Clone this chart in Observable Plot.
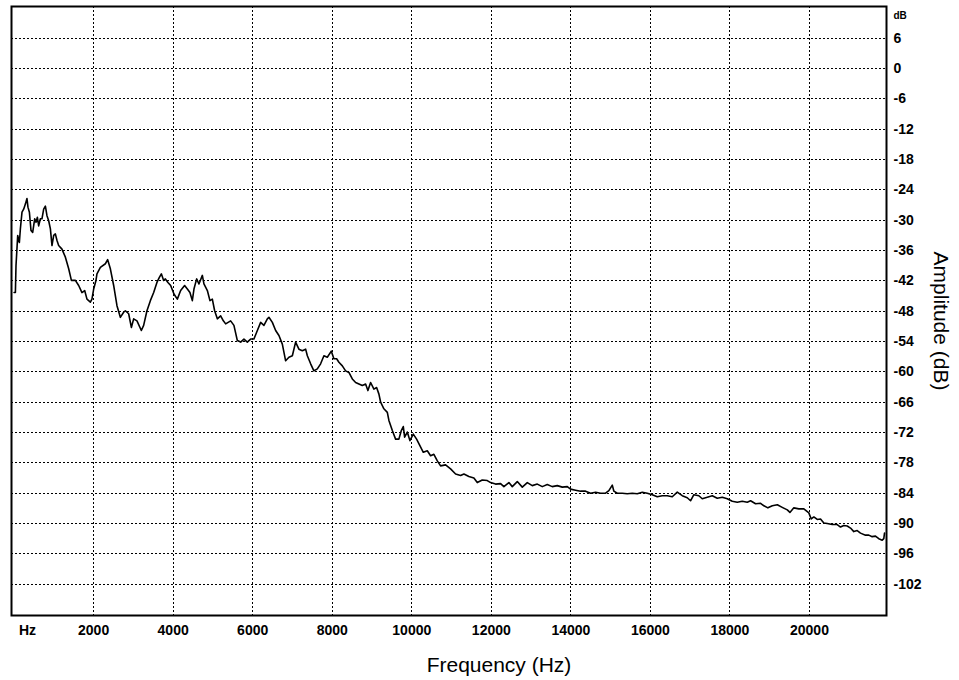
<!DOCTYPE html>
<html>
<head>
<meta charset="utf-8">
<script src="https://cdn.jsdelivr.net/npm/d3@7"></script>
<script src="https://cdn.jsdelivr.net/npm/@observablehq/plot@0.6"></script>
<style>
  html, body { margin: 0; padding: 0; background: #fff; }
</style>
</head>
<body>
<div id="chart"></div>
<script>
// Frequency (Hz) of each traced point of the spectrum
const freqHz = [
  0,33,48,91,133,158,199,241,284,324,349,385,425,468,518,551,586,618,661,701,
  744,787,827,870,913,953,996,1038,1079,1121,1204,1290,1373,1441,1541,1624,1707,1775,1833,1918,
  1958,2001,2059,2084,2170,2295,2353,2421,2504,2587,2672,2755,2798,2881,2949,3007,3090,3200,3258,3341,
  3427,3510,3592,3653,3703,3761,3804,3869,
  3937,4020,4105,4188,4288,4357,4422,4482,4523,4591,4648,4734,4774,4860,4925,4985,5043,5111,5194,5262,
  5320,5445,5528,5614,5697,5780,5865,5948,6031,6117,6200,6282,6368,6408,6494,6577,6660,6745,6828,6911,
  6997,7079,7162,7248,7331,
  7374,7457,7539,7625,7708,7791,7876,7977,8042,8110,8168,8254,8336,8419,8505,8588,8671,8756,8839,8897,
  8965,9048,9116,9174,9217,9299,9385,9425,9511,9593,9676,9737,9787,9820,9888,9953,10038,10121,10204,10290,
  10390,10473,10556,10642,10725,
  10850,10976,11102,11228,11311,11436,11562,11647,11773,11899,11982,12107,12233,12316,12442,12527,12653,12779,12905,13030,
  13156,13282,13407,13533,13659,13785,13910,13993,14119,14245,14370,14496,14622,14748,14873,14956,15042,15082,15167,15293,
  15418,15544,15670,15796,15921,16047,16173,16299,16424,16550,16676,16801,16927,17010,
  17093,17219,17304,17430,17556,17681,17807,17933,18059,18184,18310,18436,18519,18645,18771,18854,18955,19066,19192,19315,
  19443,19508,19607,19733,19859,19984,20044,20110,20195,20278,20361,20446,20572,20697,20781,20864,20949,21032,21115,21200,
  21283,21409,21492,21577,21660,21743,21829,21869,21887
];
// Amplitude (dB) at each of those frequencies
const ampDb = [
  -44.3,-44.3,-39,-33,-34.4,-31.7,-28.4,-27.8,-26.8,-25.7,-27.4,-28.4,-32,-32.4,-29.7,-30.4,-29.4,-31.1,-29.7,-29.7,
  -27.8,-27.2,-29.1,-30.1,-31.7,-35,-33,-32.7,-34,-35,-35.7,-37.3,-39.6,-41.9,-41.9,-42.9,-44.3,-43.9,-45.6,-46.2,
  -45.6,-43.6,-41.9,-40.6,-39.3,-38.6,-37.8,-39.6,-42.9,-46.9,-49.2,-48.2,-47.9,-48.5,-51.2,-49.5,-49.9,-51.8,-50.8,-47.9,
  -45.9,-44.3,-42.3,-41.3,-40.6,-41.9,-41.6,-42.3,
  -42.9,-44.6,-45.6,-43.9,-42.9,-43.6,-44.3,-45.9,-43.6,-41.6,-42.6,-40.9,-42.6,-43.9,-45.9,-45.6,-47.9,-49.5,-48.9,-49.9,
  -50.5,-49.9,-50.8,-53.8,-54.1,-53.5,-54.1,-53.5,-53.5,-51.8,-50.2,-50.8,-49.5,-49.2,-50.2,-51.8,-52.8,-54.5,-57.8,-57.1,
  -56.8,-54.1,-55.5,-55.8,-55.5,
  -56.8,-58.4,-59.8,-59.4,-58.4,-56.8,-57.1,-55.9,-57.4,-57.4,-58.1,-58.8,-59.8,-60.1,-61.4,-62.1,-62.4,-62.7,-62.4,-63.7,
  -62.1,-63.4,-63.1,-64.4,-66,-67.3,-68,-69.6,-71.6,-73.3,-73.3,-71.6,-70.8,-72.9,-71.9,-73.6,-72.3,-73.3,-74.6,-75.9,
  -75.6,-76.6,-76.3,-77.6,-78.6,
  -78.4,-79.2,-80.2,-80.5,-80.2,-80.7,-81,-81.9,-81.4,-81.5,-81.9,-82.2,-82.1,-82.7,-81.9,-82.7,-81.7,-82.8,-81.9,-82.5,
  -82.2,-82.7,-82.3,-82.7,-82.5,-82.8,-82.7,-83.2,-83.4,-83.6,-83.6,-84,-83.8,-84,-84,-83.5,-82.4,-83.6,-84,-84,
  -84.1,-84,-84.1,-83.8,-84,-84.3,-84.7,-84.5,-84.5,-84.7,-83.8,-84.5,-84.9,-85.5,
  -84.3,-84.5,-85.1,-84.8,-84.5,-85,-84.8,-85.1,-85.6,-85.8,-85.6,-85.8,-85.5,-86.1,-86,-86.5,-86.9,-86.5,-86.3,-86.8,
  -87.3,-87.8,-86.9,-87.1,-87.1,-87.9,-89.1,-88.7,-89.2,-89.1,-89.9,-90,-90.2,-90.2,-90.7,-90.4,-90.5,-90.9,-91.6,-91.4,
  -91.9,-92.3,-92.3,-92.6,-92.5,-93,-93.3,-93,-91.9
];
// Tick values
const xTicks = [2000, 4000, 6000, 8000, 10000, 12000, 14000, 16000, 18000, 20000];
const yTicks = [6, 0, -6, -12, -18, -24, -30, -36, -42, -48, -54, -60, -66, -72, -78, -84, -90, -96, -102];

const spectrum = freqHz.map((f, i) => ({f, a: ampDb[i]}));

const FONT = "'Liberation Sans', Arial, Helvetica, sans-serif";
const grid = {stroke: "black", strokeWidth: 1, strokeDasharray: "2,2", shapeRendering: "crispEdges"};

const chart = Plot.plot({
  width: 959,
  height: 680,
  marginLeft: 11,
  marginRight: 73,
  marginTop: 6,
  marginBottom: 65,
  style: {fontFamily: FONT, background: "white", color: "black"},
  x: {domain: [-65, 21937], axis: null},
  y: {domain: [-108.2, 12.3], axis: null},
  marks: [
    Plot.ruleX(xTicks, grid),
    Plot.ruleY(yTicks, grid),
    Plot.line(spectrum, {x: "f", y: "a", stroke: "black", strokeWidth: 1.6}),
    Plot.frame({stroke: "black", strokeWidth: 2}),
    Plot.axisX(xTicks, {anchor: "bottom", tickSize: 0, tickPadding: 10, fontSize: 14, fontWeight: "bold",
      label: null, tickFormat: d => String(d)}),
    Plot.axisY(yTicks, {anchor: "right", tickSize: 0, tickPadding: 7, textAnchor: "start", fontSize: 14,
      fontWeight: "bold", label: null, tickFormat: d => String(d)}),
    Plot.text(["Hz"], {frameAnchor: "bottom-left", dx: 16, dy: 15, lineAnchor: "middle", textAnchor: "middle",
      fontSize: 14, fontWeight: "bold"}),
    Plot.text(["dB"], {frameAnchor: "top-right", dx: 7, dy: 9, lineAnchor: "middle", textAnchor: "start",
      fontSize: 10, fontWeight: "bold"}),
    Plot.text(["Frequency (Hz)"], {frameAnchor: "bottom", dx: 50, dy: 50, lineAnchor: "middle", textAnchor: "middle",
      fontSize: 21}),
    Plot.text(["Amplitude (dB)"], {frameAnchor: "right", dx: 54, dy: 10, rotate: 90, lineAnchor: "middle",
      textAnchor: "middle", fontSize: 21})
  ]
});
document.getElementById("chart").appendChild(chart);
</script>
</body>
</html>
